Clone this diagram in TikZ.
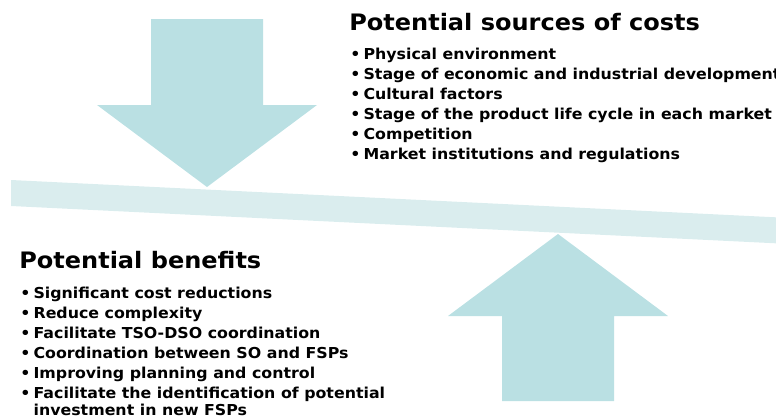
\documentclass[tikz,border=0pt]{standalone}
\usepackage{fontspec}
\setmainfont{DejaVu Sans}[FakeStretch=1.05]
\newfontfamily\headfont{DejaVu Sans}[FakeStretch=1.06]
\definecolor{arrowfill}{RGB}{186,224,227}
\definecolor{beamfill}{RGB}{218,237,238}
\tikzset{
  headline/.style={anchor=base west, inner sep=0pt, font=\headfont\bfseries\fontsize{17}{20}\selectfont},
  itemlist/.style={anchor=base west, inner sep=0pt, font=\bfseries\fontsize{11.3}{15}\selectfont},
}
\newcommand{\itm}{\textbullet\hspace{2.4pt}}
\begin{document}
\begin{tikzpicture}[x=0.75pt, y=-0.75pt]
  \useasboundingbox (0,0) rectangle (776,418);
  \clip (0,0) rectangle (776,418);
  % beam
  \fill[beamfill] (11,180) -- (790,218) -- (790,244) -- (11,206) -- cycle;
  % arrows
  \fill[arrowfill] (151,19) -- (263,19) -- (263,105) -- (317,105)
    -- (207,187) -- (97,105) -- (151,105) -- cycle;
  \fill[arrowfill] (502,401) -- (614,401) -- (614,316) -- (668,316)
    -- (558,234) -- (448,316) -- (502,316) -- cycle;
  % texts
  \node[headline] (costs) at (349,30) {Potential sources of costs};
  \node[itemlist] (costlist) at (350,59) {%
    \begin{tabular}[t]{@{}l@{}}
      \itm Physical environment\\
      \itm Stage of economic and industrial development\\
      \itm Cultural factors\\
      \itm Stage of the product life cycle in each market\\
      \itm Competition\\
      \itm Market institutions and regulations
    \end{tabular}};
  \node[headline] (benefits) at (19,268) {Potential benefits};
  \node[itemlist] (benefitlist) at (20,298) {%
    \begin{tabular}[t]{@{}l@{}}
      \itm Significant cost reductions\\
      \itm Reduce complexity\\
      \itm Facilitate TSO-DSO coordination\\
      \itm Coordination between SO and FSPs\\
      \itm Improving planning and control\\
      \itm Facilitate the identification of potential\\[-2.25pt]
      \hphantom{\itm}investment in new FSPs
    \end{tabular}};
\end{tikzpicture}
\end{document}
